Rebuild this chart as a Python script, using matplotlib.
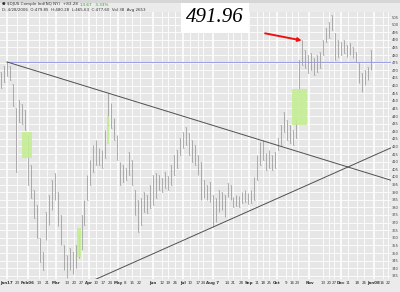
import numpy as np
import matplotlib
matplotlib.use("Agg")
import matplotlib.pyplot as plt
from matplotlib.patches import Rectangle

# trading-day index (every 2nd session), bar highs and lows
days = list(range(-4, 246, 2))
highs = [468.9, 472.8, 475.5, 472.8, 461.0, 445.2, 450.5, 447.9, 443.9, 426.9,
         407.8, 391.4, 381.6, 359.9, 350.7, 377.0, 388.1, 398.0, 402.6, 390.1,
         375.0, 355.3, 348.7, 353.3, 350.7, 355.3, 361.9, 375.0, 384.8, 401.3,
         411.1, 421.0, 424.2, 419.0, 417.7, 430.8, 455.1, 448.5, 438.7, 427.5,
         409.8, 407.8, 405.9, 416.4, 411.1, 391.4, 384.8, 386.2, 390.1, 388.1,
         394.7, 401.3, 402.6, 401.3, 399.3, 403.2, 400.6, 407.8, 414.4, 417.7,
         425.6, 429.5, 432.8, 428.8, 424.2, 421.0, 414.4, 409.8, 398.0, 394.7,
         396.7, 388.1, 386.2, 391.4, 390.1, 388.1, 396.0, 394.7, 386.8, 388.1,
         387.5, 390.1, 391.4, 389.4, 391.4, 399.9, 414.4, 422.9, 424.2, 415.7,
         417.7, 414.4, 416.4, 425.6, 434.1, 442.6, 437.4, 434.1, 430.8, 437.4,
         476.8, 489.9, 483.3, 480.0, 481.4, 478.1, 480.0, 482.0, 489.9, 497.8,
         501.7, 506.3, 494.5, 489.9, 488.6, 489.9, 486.6, 487.9, 485.3, 482.0,
         474.8, 468.2, 470.2, 472.2, 483.3]
lows = [458.4, 462.3, 466.3, 463.6, 446.6, 403.2, 436.1, 434.7, 430.8, 394.7,
        386.2, 373.0, 359.9, 344.1, 338.9, 358.6, 368.4, 378.3, 384.8, 367.8,
        355.3, 338.9, 333.6, 338.9, 336.3, 340.2, 346.8, 352.0, 368.4, 384.8,
        394.7, 403.2, 407.8, 407.8, 405.9, 412.4, 434.1, 432.1, 424.2, 411.1,
        394.7, 396.7, 398.0, 401.3, 394.7, 375.0, 363.8, 368.4, 377.0, 376.3,
        379.6, 381.6, 386.2, 391.4, 390.1, 392.7, 391.4, 394.7, 401.3, 405.9,
        414.4, 419.0, 421.0, 414.4, 409.8, 407.8, 401.3, 384.8, 386.2, 384.8,
        383.5, 367.1, 370.4, 377.0, 378.3, 373.7, 386.8, 384.8, 380.2, 380.9,
        380.2, 382.9, 383.5, 382.2, 382.9, 384.8, 398.0, 407.8, 411.1, 404.5,
        405.9, 404.5, 405.9, 417.7, 421.0, 429.5, 424.2, 422.3, 421.0, 425.6,
        455.8, 473.5, 471.5, 468.2, 470.2, 466.9, 468.9, 471.5, 480.0, 488.6,
        491.2, 496.5, 476.8, 478.7, 480.0, 481.4, 478.7, 480.0, 478.1, 475.5,
        461.7, 455.8, 460.4, 463.6, 470.2]

# gap highlight boxes: (start day, end day, low, high)
gaps = [(9.9, 16.6, 412.4, 429.5), (46.8, 49.5, 347.4, 366.5),
        (66.9, 68.7, 421.6, 440.0), (191.0, 201.0, 434.1, 457.7)]

# trend lines
down_line = ([0, 257.7], [475.5, 397.8])
up_line = ([52, 257.7], [329.5, 419.1])
jan_high = 475.5

tick_pos = [0, 6.7, 14, 21.5, 27, 33, 40, 45, 50, 55, 60, 64.4, 69, 74.5, 79, 84, 89,
            98, 104, 108, 113, 118, 123, 128, 131.5, 138, 148, 152, 157, 162.3, 168, 172,
            176, 181, 187, 191, 195, 203, 212, 216, 219.5, 224, 229, 235, 239.5, 246, 252, 256]
tick_lab = ['Jan17', '23', 'Feb06', '13', '21', 'Mar', '13', '20', '27', 'Apr', '10', '17',
            '24', 'May', '8', '15', '22', 'Jun', '12', '19', '26', 'Jul', '10', '17', '24',
            'Aug 7', '14', '21', '28', 'Sep', '11', '18', '25', 'Oct', '9', '16', '23', 'Nov',
            '13', '20', '27', 'Dec', '11', '18', '26', 'Jan08', '16', '22']
months = {'Jan17', 'Feb06', 'Mar', 'Apr', 'May', 'Jun', 'Jul', 'Aug 7', 'Sep', 'Oct',
          'Nov', 'Dec', 'Jan08'}

fig = plt.figure(figsize=(4, 2.92), dpi=100)
fig.patch.set_facecolor('#ebebeb')
fig.add_artist(Rectangle((0, 0.99), 1, 0.01, transform=fig.transFigure,
                         color='#d6d6d6', lw=0))

ax = fig.add_axes([0, 13 / 292, 391 / 400, 267 / 292])
ax.set_facecolor('#e6e6e6')
ax.set_xlim(-4.7, 257.7)
ax.set_ylim(332.97, 508.3)

yt = np.arange(335, 506, 5)
ax.set_yticks(yt)
ax.set_yticklabels([str(v) for v in yt])
ax.yaxis.tick_right()
ax.set_xticks(tick_pos)
ax.set_xticklabels(tick_lab)
ax.tick_params(axis='x', length=0, labelsize=2.9, colors='#333333', pad=1.5)
ax.tick_params(axis='y', length=0, labelsize=2.6, colors='#444444', pad=0.8)
for lab in ax.get_xticklabels():
    if lab.get_text() in months:
        lab.set_fontweight('bold')
for s in ax.spines.values():
    s.set_visible(False)

for v in yt:
    ax.axhline(v, color='white', lw=0.6, zorder=0)
for p, l in zip(tick_pos, tick_lab):
    ax.axvline(p, color='white', lw=1.2 if l in months else 0.6, zorder=0)

ax.vlines(days, lows, highs, color='#999999', lw=0.55, zorder=2)
ax.hlines(highs, np.array(days) - 0.5, np.array(days), color='#999999', lw=0.4, zorder=2)
ax.hlines(lows, np.array(days), np.array(days) + 0.5, color='#999999', lw=0.4, zorder=2)

for d0, d1, lo, hi in gaps:
    ax.add_patch(Rectangle((d0, lo), d1 - d0, hi - lo, color='#c4ee94', alpha=0.9,
                           lw=0, zorder=3))

ax.plot([0, 257.7], [jan_high, jan_high], color='#a0a0e8', lw=0.8, zorder=1)
ax.plot(*down_line, color='#505050', lw=0.7, zorder=4)
ax.plot(*up_line, color='#505050', lw=0.7, zorder=4)

ax.annotate('', xy=(197.8, 489.6), xytext=(173.2, 494.3),
            arrowprops=dict(arrowstyle='-|>', color='#ee1111', lw=1.4,
                            mutation_scale=5, shrinkA=0, shrinkB=0), zorder=5)

fig.text(215 / 400, 1 - 18 / 292, '491.96', family='Liberation Serif', style='italic',
         fontsize=15, ha='center', va='center', color='black',
         bbox=dict(boxstyle='square,pad=0.25', fc='white', ec='none'))

fig.text(2 / 400, 1 - 4.5 / 292, '\u25cf $DJUS Comple Ind(NQ NY)  +83.28', fontsize=3.0,
         color='#333333', va='center')
fig.text(80 / 400, 1 - 4.5 / 292, '13.67   3.33%', fontsize=3.0, color='#22aa22', va='center')
fig.text(2 / 400, 1 - 9.5 / 292,
         'D: 4/28/2006  O:479.85  H:480.28  L:465.63  C:477.60  Vol 38  Avg 2653',
         fontsize=2.9, color='#333333', va='center')

fig.savefig('out.png', dpi=100, facecolor=fig.get_facecolor())
